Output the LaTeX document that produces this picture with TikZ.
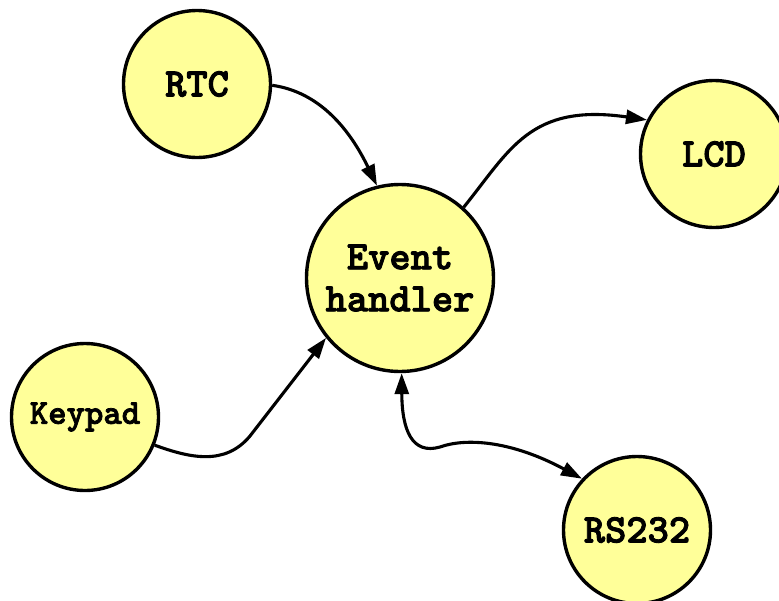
\documentclass[tikz,border=0pt]{standalone}
\usepackage{fontspec}
\newfontfamily\labelfont{lmmonolt10-bold.otf}[FakeBold=2.2]
\usetikzlibrary{arrows.meta}
\definecolor{nodefill}{RGB}{255,255,153}
\begin{document}
\begin{tikzpicture}[x=1pt,y=-1pt,
  >={Triangle[length=21pt,width=14pt]},
  unit/.style={circle, draw=black, line width=3.4pt, fill=nodefill,
    inner sep=0pt, minimum size=#1, align=center,
    font=\labelfont\fontsize{40.5}{42}\selectfont},
  flow/.style={line width=3.1pt, ->},
  duplex/.style={line width=3.1pt, <->},
]
% canvas
\useasboundingbox (0,0) rectangle (779,600);
\fill[white] (0,0) rectangle (779,600);

% units
\node[unit=147pt] (rtc) at (197,84) {RTC};
\node[unit=187pt] (ev) at (400,278) {Event\\handler};
\node[unit=147pt] (lcd) at (714,154) {LCD};
\node[unit=147pt, font=\labelfont\fontsize{35}{36}\selectfont] (kp) at (85,417) {Keypad};
\node[unit=147pt] (rs) at (637,530) {RS232};

% connections
\draw[flow] (rtc.-1) .. controls (320,92) and (350,130) .. (ev.104);
\draw[flow] (ev.48) .. controls (510,150) and (530,103) .. (lcd.153);
\draw[flow] (kp.-22) .. controls (190,458) and (225,466) .. (250,436) -- (ev.219);
\draw[duplex] (ev.-89) .. controls (402,430) and (412,455) .. (440,447)
  .. controls (465,438) and (510,440) .. (rs.137);
\end{tikzpicture}
\end{document}
